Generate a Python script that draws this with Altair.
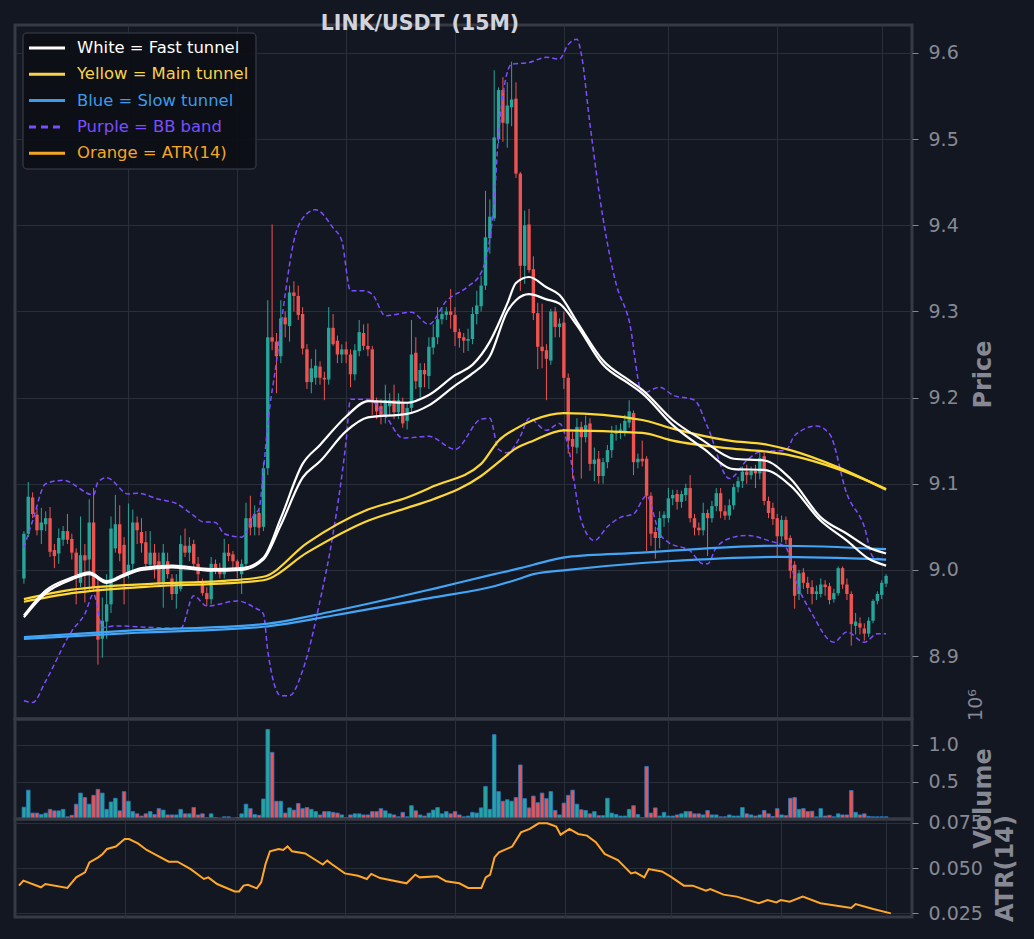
import altair as alt
import pandas as pd
import jinja2

# ---------------- data ----------------
opens = [
8.990, 9.042, 9.084, 9.064, 9.046, 9.053, 9.060, 9.023, 9.019, 9.035,
9.045, 9.036, 9.020, 8.985, 9.017, 9.012, 9.055, 8.980, 8.920, 8.940,
8.960, 9.025, 9.053, 9.029, 8.996, 9.007, 9.055, 9.044, 9.032, 9.006,
9.020, 9.010, 8.985, 9.010, 8.990, 8.972, 8.978, 9.028, 9.020, 9.030,
9.007, 8.985, 8.973, 8.966, 9.007, 8.999, 8.995, 9.020, 9.018, 9.010,
8.995, 9.007, 9.060, 9.050, 9.066, 9.050, 9.118, 9.270, 9.265, 9.248,
9.293, 9.283, 9.322, 9.318, 9.297, 9.256, 9.218, 9.223, 9.236, 9.223,
9.221, 9.281, 9.266, 9.250, 9.256, 9.250, 9.227, 9.254, 9.275, 9.260,
9.256, 9.196, 9.190, 9.180, 9.190, 9.197, 9.183, 9.193, 9.173, 9.188,
9.252, 9.212, 9.232, 9.225, 9.258, 9.270, 9.291, 9.296, 9.300, 9.296,
9.276, 9.270, 9.266, 9.268, 9.297, 9.306, 9.330, 9.385, 9.408, 9.500,
9.557, 9.518, 9.537, 9.547, 9.460, 9.353, 9.401, 9.349, 9.298, 9.259,
9.255, 9.243, 9.300, 9.282, 9.287, 9.223, 9.152, 9.142, 9.166, 9.154,
9.170, 9.123, 9.129, 9.109, 9.125, 9.139, 9.158, 9.160, 9.159, 9.171,
9.182, 9.125, 9.129, 9.129, 9.086, 9.044, 9.037, 9.060, 9.060, 9.083,
9.088, 9.079, 9.087, 9.095, 9.060, 9.049, 9.046, 9.066, 9.060, 9.074,
9.089, 9.068, 9.063, 9.075, 9.096, 9.103, 9.114, 9.110, 9.115, 9.112,
9.132, 9.080, 9.072, 9.060, 9.039, 9.058, 9.037, 9.006, 8.972, 8.997,
8.985, 8.980, 8.972, 8.972, 8.983, 8.981, 8.966, 8.973, 9.002, 8.983,
8.972, 8.935, 8.938, 8.932, 8.926, 8.941, 8.964, 8.971, 8.984]

highs = [
9.045, 9.102, 9.090, 9.072, 9.072, 9.068, 9.073, 9.030, 9.048, 9.051,
9.065, 9.042, 9.025, 9.062, 9.030, 9.082, 9.095, 8.990, 8.968, 8.995,
9.062, 9.087, 9.075, 9.038, 9.077, 9.070, 9.062, 9.060, 9.045, 9.045,
9.030, 9.020, 9.030, 9.020, 8.995, 8.995, 9.040, 9.048, 9.038, 9.035,
9.015, 8.990, 8.980, 9.015, 9.012, 9.008, 9.036, 9.030, 9.022, 9.012,
9.012, 9.078, 9.086, 9.075, 9.070, 9.125, 9.313, 9.401, 9.275, 9.313,
9.300, 9.330, 9.335, 9.330, 9.305, 9.262, 9.245, 9.256, 9.242, 9.230,
9.305, 9.297, 9.272, 9.262, 9.265, 9.256, 9.262, 9.290, 9.285, 9.286,
9.260, 9.200, 9.198, 9.215, 9.205, 9.215, 9.205, 9.200, 9.195, 9.290,
9.270, 9.240, 9.240, 9.270, 9.285, 9.305, 9.305, 9.305, 9.326, 9.305,
9.280, 9.275, 9.280, 9.305, 9.324, 9.341, 9.440, 9.430, 9.580, 9.560,
9.572, 9.566, 9.590, 9.566, 9.462, 9.417, 9.419, 9.364, 9.310, 9.309,
9.262, 9.303, 9.305, 9.292, 9.300, 9.228, 9.160, 9.176, 9.172, 9.179,
9.176, 9.142, 9.138, 9.130, 9.145, 9.167, 9.168, 9.170, 9.180, 9.197,
9.185, 9.135, 9.150, 9.132, 9.090, 9.050, 9.068, 9.068, 9.095, 9.093,
9.093, 9.092, 9.100, 9.110, 9.065, 9.055, 9.078, 9.070, 9.080, 9.095,
9.095, 9.075, 9.082, 9.100, 9.108, 9.120, 9.122, 9.120, 9.122, 9.136,
9.136, 9.085, 9.078, 9.065, 9.063, 9.062, 9.040, 9.010, 9.000, 9.002,
8.992, 8.988, 8.982, 8.990, 8.988, 8.985, 8.978, 9.004, 9.004, 8.990,
8.975, 8.950, 8.945, 8.938, 8.945, 8.966, 8.975, 8.988, 8.995]

lows = [
8.984, 9.038, 9.060, 9.040, 9.030, 9.045, 9.015, 9.002, 9.007, 9.028,
9.030, 9.012, 8.960, 8.980, 8.962, 8.975, 8.975, 8.890, 8.898, 8.920,
8.950, 9.020, 9.010, 8.960, 8.990, 9.000, 9.030, 9.020, 9.000, 9.000,
8.990, 8.980, 8.956, 8.990, 8.965, 8.955, 8.975, 9.015, 9.010, 9.000,
8.985, 8.970, 8.958, 8.960, 8.995, 8.990, 8.990, 9.010, 9.000, 8.990,
8.972, 9.000, 9.040, 9.040, 9.040, 9.045, 9.110, 9.255, 9.205, 9.240,
9.270, 9.265, 9.300, 9.290, 9.250, 9.210, 9.205, 9.215, 9.215, 9.197,
9.215, 9.260, 9.240, 9.240, 9.240, 9.212, 9.220, 9.248, 9.255, 9.248,
9.180, 9.175, 9.169, 9.170, 9.180, 9.175, 9.175, 9.165, 9.163, 9.183,
9.210, 9.200, 9.212, 9.210, 9.250, 9.262, 9.285, 9.290, 9.280, 9.260,
9.258, 9.252, 9.254, 9.262, 9.285, 9.300, 9.325, 9.367, 9.405, 9.495,
9.497, 9.490, 9.515, 9.455, 9.324, 9.332, 9.345, 9.290, 9.233, 9.234,
9.197, 9.238, 9.270, 9.270, 9.210, 9.135, 9.106, 9.135, 9.106, 9.148,
9.115, 9.103, 9.100, 9.100, 9.118, 9.130, 9.150, 9.152, 9.155, 9.165,
9.110, 9.118, 9.120, 9.022, 9.028, 9.013, 9.025, 9.050, 9.055, 9.075,
9.070, 9.072, 9.080, 9.055, 9.040, 9.040, 9.040, 9.016, 9.055, 9.068,
9.060, 9.058, 9.058, 9.070, 9.090, 9.095, 9.100, 9.105, 9.095, 9.105,
9.075, 9.060, 9.052, 9.015, 9.032, 9.030, 8.990, 8.955, 8.965, 8.978,
8.972, 8.960, 8.965, 8.968, 8.970, 8.960, 8.962, 8.970, 8.978, 8.965,
8.912, 8.925, 8.925, 8.918, 8.922, 8.938, 8.960, 8.966, 8.980]

closes = [
9.042, 9.085, 9.065, 9.046, 9.055, 9.060, 9.021, 9.016, 9.037, 9.045,
9.035, 9.020, 8.991, 9.017, 9.011, 9.055, 8.980, 8.919, 8.941, 8.960,
9.048, 9.053, 9.019, 8.996, 9.006, 9.055, 9.046, 9.031, 9.007, 9.020,
9.006, 8.985, 9.020, 8.995, 8.972, 8.985, 9.030, 9.020, 9.028, 9.007,
8.995, 8.973, 8.966, 9.007, 9.000, 8.995, 9.020, 9.016, 9.010, 9.000,
9.007, 9.060, 9.049, 9.065, 9.049, 9.118, 9.270, 9.265, 9.248, 9.292,
9.285, 9.322, 9.318, 9.296, 9.257, 9.218, 9.234, 9.237, 9.223, 9.221,
9.281, 9.262, 9.250, 9.256, 9.250, 9.227, 9.255, 9.276, 9.260, 9.256,
9.196, 9.184, 9.180, 9.197, 9.197, 9.183, 9.197, 9.170, 9.188, 9.250,
9.219, 9.232, 9.227, 9.259, 9.270, 9.291, 9.297, 9.300, 9.296, 9.276,
9.269, 9.266, 9.268, 9.297, 9.307, 9.330, 9.386, 9.410, 9.502, 9.557,
9.519, 9.539, 9.546, 9.460, 9.353, 9.400, 9.348, 9.298, 9.259, 9.254,
9.245, 9.300, 9.282, 9.286, 9.223, 9.150, 9.143, 9.166, 9.154, 9.168,
9.123, 9.128, 9.109, 9.125, 9.139, 9.158, 9.160, 9.163, 9.173, 9.184,
9.125, 9.129, 9.126, 9.086, 9.042, 9.037, 9.060, 9.064, 9.083, 9.087,
9.079, 9.088, 9.095, 9.060, 9.049, 9.046, 9.066, 9.060, 9.074, 9.089,
9.068, 9.063, 9.075, 9.096, 9.103, 9.114, 9.110, 9.115, 9.112, 9.130,
9.080, 9.066, 9.059, 9.039, 9.058, 9.035, 8.999, 8.970, 8.996, 8.985,
8.979, 8.972, 8.975, 8.983, 8.980, 8.965, 8.973, 9.002, 8.983, 8.972,
8.937, 8.940, 8.933, 8.926, 8.941, 8.964, 8.972, 8.985, 8.993]

# volume in units of 1e6
volumes = [
0.16, 0.39, 0.08, 0.08, 0.06, 0.08, 0.13, 0.11, 0.11, 0.13,
0.03, 0.05, 0.20, 0.35, 0.29, 0.20, 0.32, 0.40, 0.35, 0.13,
0.23, 0.28, 0.11, 0.37, 0.24, 0.10, 0.07, 0.04, 0.07, 0.10,
0.06, 0.14, 0.12, 0.055, 0.055, 0.055, 0.13, 0.07, 0.07, 0.155,
0.055, 0.07, 0.02, 0.07, 0.02, 0.01, 0.03, 0.03, 0.01, 0.02,
0.07, 0.20, 0.14, 0.06, 0.05, 0.27, 1.21, 0.90, 0.24, 0.24,
0.08, 0.15, 0.12, 0.21, 0.14, 0.155, 0.13, 0.10, 0.055, 0.10,
0.10, 0.09, 0.08, 0.055, 0.02, 0.055, 0.07, 0.07, 0.055, 0.055,
0.10, 0.10, 0.14, 0.11, 0.07, 0.055, 0.03, 0.09, 0.03, 0.18,
0.11, 0.055, 0.04, 0.08, 0.12, 0.155, 0.07, 0.10, 0.07, 0.10,
0.055, 0.03, 0.04, 0.09, 0.08, 0.15, 0.44, 0.13, 1.14, 0.37,
0.24, 0.26, 0.24, 0.29,
0.73, 0.275, 0.15, 0.31, 0.22, 0.35, 0.275, 0.37, 0.115, 0.055,
0.215, 0.32, 0.39, 0.20, 0.125, 0.115, 0.07, 0.10, 0.045, 0.045,
0.28, 0.08, 0.06, 0.04, 0.04, 0.13, 0.18, 0.06, 0.02, 0.71,
0.08, 0.15, 0.04, 0.09, 0.04, 0.04, 0.055, 0.07, 0.10, 0.10,
0.07, 0.07, 0.055, 0.115, 0.055, 0.055, 0.03, 0.03, 0.055, 0.04,
0.04, 0.155, 0.07, 0.055, 0.04, 0.055, 0.115, 0.07, 0.035, 0.14,
0.055, 0.045, 0.28, 0.29, 0.13, 0.14, 0.10, 0.105, 0.03, 0.14,
0.04, 0.05, 0.03, 0.07, 0.055, 0.055, 0.385, 0.09, 0.055, 0.07,
0.035, 0.03, 0.03, 0.03, 0.03]

fast_idx = [0, 5, 11, 15, 19, 23, 27, 34, 43, 50, 55, 59, 64, 68, 74, 79, 88, 93, 99, 103,
            107, 111, 113, 116, 120, 123, 127, 133, 139, 142, 149, 156, 163, 170, 176, 183, 189, 194, 198]
fast_upper = [8.947, 8.976, 8.991, 8.997, 8.987, 8.995, 9.002, 9.005, 9.001, 9.002,
              9.014, 9.060, 9.123, 9.145, 9.178, 9.196, 9.194, 9.203, 9.226, 9.238,
              9.265, 9.309, 9.333, 9.340, 9.328, 9.319, 9.288, 9.243, 9.220, 9.209,
              9.174, 9.150, 9.129, 9.127, 9.106, 9.061, 9.042, 9.026, 9.019]
fast_lower = [8.945, 8.973, 8.989, 8.995, 8.985, 8.993, 9.000, 9.003, 8.999, 9.000,
              9.012, 9.052, 9.107, 9.126, 9.161, 9.177, 9.181, 9.191, 9.214, 9.228,
              9.248, 9.300, 9.313, 9.320, 9.314, 9.309, 9.284, 9.238, 9.216, 9.205,
              9.168, 9.141, 9.117, 9.116, 9.098, 9.057, 9.034, 9.013, 9.005]

main_idx = [0, 11, 30, 45, 55, 65, 79, 88, 94, 105, 109, 113, 117, 124, 142, 149, 162, 171, 176, 187, 198]
main_upper = [8.966, 8.977, 8.984, 8.987, 8.992, 9.031, 9.070, 9.084, 9.097, 9.123, 9.150,
              9.164, 9.174, 9.182, 9.174, 9.164, 9.150, 9.145, 9.139, 9.119, 9.093]
main_lower = [8.963, 8.973, 8.981, 8.984, 8.988, 9.020, 9.057, 9.072, 9.082, 9.109, 9.125,
              9.141, 9.150, 9.162, 9.159, 9.150, 9.141, 9.137, 9.133, 9.117, 9.094]

slow_idx = [0, 26, 55, 71, 94, 108, 114, 117, 125, 142, 148, 173, 198]
slow_upper = [8.922, 8.930, 8.937, 8.952, 8.978, 8.995, 9.002, 9.006, 9.015, 9.020, 9.022, 9.028, 9.024]
slow_lower = [8.920, 8.927, 8.934, 8.947, 8.968, 8.981, 8.990, 8.995, 9.000, 9.008, 9.010, 9.015, 9.012]

bbu_idx = [0, 2, 5, 9, 16, 17, 19, 24, 26, 31, 35, 39, 41, 44, 46, 50, 53, 54, 55, 56,
           58, 60, 62, 64, 67, 71, 73, 75, 78, 80, 83, 89, 93, 97, 102, 105, 108, 109, 112, 116,
           120, 123, 125, 127, 128, 130, 133, 136, 139, 142, 146, 149, 154, 157, 162, 166, 169, 175, 177, 182,
           185, 189, 193, 195, 198]
bb_upper = [9.026, 9.057, 9.100, 9.104, 9.087, 9.102, 9.107, 9.088, 9.089, 9.082,
            9.077, 9.063, 9.056, 9.055, 9.042, 9.038, 9.065, 9.071, 9.115, 9.169,
            9.242, 9.320, 9.382, 9.408, 9.418, 9.397, 9.382, 9.324, 9.324, 9.320,
            9.295, 9.299, 9.285, 9.312, 9.329, 9.345, 9.428, 9.506, 9.587, 9.589,
            9.595, 9.593, 9.610, 9.616, 9.599, 9.517, 9.408, 9.332, 9.289, 9.205,
            9.212, 9.203, 9.197, 9.166, 9.106, 9.127, 9.137, 9.139, 9.156, 9.167,
            9.158, 9.088, 9.050, 9.015, 9.012]

bbl_idx = [0, 2, 5, 11, 14, 16, 18, 21, 30, 36, 39, 42, 49, 53, 55, 56, 59, 61, 64, 68,
           71, 74, 75, 79, 83, 87, 93, 99, 105, 107, 109, 111, 114, 116, 120, 123, 125, 128, 131, 134,
           137, 140, 143, 146, 148, 153, 156, 157, 159, 163, 166, 171, 175, 177, 181, 186, 189, 193, 196, 198]
bb_lower = [8.848, 8.846, 8.871, 8.929, 8.949, 8.972, 8.933, 8.935, 8.933, 8.932,
            8.970, 8.958, 8.964, 8.956, 8.949, 8.906, 8.854, 8.854, 8.883, 8.964,
            9.042, 9.150, 9.198, 9.198, 9.179, 9.153, 9.155, 9.140, 9.175, 9.176,
            9.140, 9.136, 9.155, 9.176, 9.162, 9.170, 9.143, 9.057, 9.034, 9.050,
            9.061, 9.065, 9.086, 9.042, 9.032, 9.022, 9.007, 9.007, 9.026, 9.038,
            9.040, 9.034, 9.026, 8.991, 8.949, 8.916, 8.928, 8.916, 8.926, 8.926]

atr_idx = [0, 1, 5, 6, 11, 13, 15, 16, 18, 19, 20, 22, 24, 25, 27, 29, 31, 34, 36, 39,
           42, 43, 45, 49, 50, 51, 52, 54, 55, 56, 57, 59, 60, 61, 62, 65, 67, 69, 70, 71,
           74, 77, 79, 80, 82, 88, 90, 91, 95, 97, 100, 102, 105, 106, 107, 108, 109, 112, 114, 116,
           118, 120, 122, 123, 125, 127, 129, 131, 133, 136, 139, 140, 142, 143, 146, 148, 151, 153, 156, 157,
           160, 163, 168, 170, 172, 173, 175, 178, 182, 189, 190, 194, 198]
atr_vals = [0.0402, 0.0430, 0.0393, 0.0411, 0.0389, 0.0448, 0.0476, 0.0531, 0.0559, 0.0578,
            0.0606, 0.0619, 0.0661, 0.0661, 0.0637, 0.0600, 0.0574, 0.0535, 0.0535, 0.0494,
            0.0439, 0.0448, 0.0411, 0.0370, 0.0370, 0.0402, 0.0407, 0.0387, 0.0420, 0.0522,
            0.0593, 0.0606, 0.0600, 0.0620, 0.0593, 0.0581, 0.0550, 0.0519, 0.0541, 0.0522,
            0.0470, 0.0457, 0.0439, 0.0467, 0.0444, 0.0415, 0.0463, 0.0448, 0.0454, 0.0426,
            0.0415, 0.0389, 0.0389, 0.0448, 0.0463, 0.0559, 0.0587, 0.0619, 0.0698, 0.0717,
            0.0748, 0.0748, 0.0730, 0.0685, 0.0717, 0.0689, 0.0680, 0.0643, 0.0578, 0.0544,
            0.0470, 0.0476, 0.0448, 0.0494, 0.0481, 0.0452, 0.0402, 0.0402, 0.0374, 0.0383,
            0.0352, 0.0341, 0.0304, 0.0322, 0.0309, 0.0322, 0.0313, 0.0341, 0.0304, 0.0278,
            0.0300, 0.0272, 0.0248]

price_ticks = [8.9, 9.0, 9.1, 9.2, 9.3, 9.4, 9.5, 9.6]
vol_ticks = [0.5, 1.0]
atr_ticks = [0.025, 0.050, 0.075]
grid_idx = [24, 49, 74, 99, 124, 148, 173, 197]

legend_labels = ["White = Fast tunnel", "Yellow = Main tunnel", "Blue = Slow tunnel",
                 "Purple = BB band", "Orange = ATR(14)"]
legend_colors = ["#ffffff", "#f9d14a", "#3d9be9", "#7c4dff", "#f5a623"]
legend_dashed = [False, False, False, True, False]
title_text = "LINK/USDT (15M)"

N = len(closes)
assert len(opens) == N and len(highs) == N and len(lows) == N and len(volumes) == N
assert len(fast_idx) == len(fast_upper) == len(fast_lower)
assert len(main_idx) == len(main_upper) == len(main_lower)
assert len(slow_idx) == len(slow_upper) == len(slow_lower)
assert len(bbu_idx) == len(bb_upper) and len(bbl_idx) == len(bb_lower)
assert len(atr_idx) == len(atr_vals)

# ---------------- styling ----------------
BG = "#131722"
UP, DOWN = "#26a69a", "#ef5350"
WHITE, YELLOW, BLUE, PURPLE, ORANGE = "#ffffff", "#fdd835", "#42a5f5", "#7c4dff", "#ffa726"
TXT = "#868993"
FONT = "DejaVu Sans"
W = 897
H_PRICE, H_VOL, H_ATR = 694, 100, 98

candles = pd.DataFrame({"idx": list(range(N)), "open": opens, "high": highs,
                        "low": lows, "close": closes, "vol": volumes})


def line_df(idx, upper, lower):
    return pd.DataFrame({"idx": idx + idx, "value": upper + lower,
                         "series": ["upper"] * len(idx) + ["lower"] * len(idx)})


fast_df = line_df(fast_idx, fast_upper, fast_lower)
main_df = line_df(main_idx, main_upper, main_lower)
slow_df = line_df(slow_idx, slow_upper, slow_lower)
bb_df = pd.DataFrame({"idx": bbu_idx + bbl_idx, "value": bb_upper + bb_lower,
                      "series": ["upper"] * len(bbu_idx) + ["lower"] * len(bbl_idx)})
atr_df = pd.DataFrame({"idx": atr_idx, "atr": atr_vals})
leg_df = pd.DataFrame({"label": legend_labels, "color": legend_colors,
                       "row": list(range(len(legend_labels))), "dashed": legend_dashed})
one = pd.DataFrame({"k": [0]})

xscale = alt.Scale(domain=[-0.9, 202.8], nice=False, zero=False)
xenc = alt.X("idx:Q", scale=xscale, axis=alt.Axis(values=grid_idx, grid=True), title=None)
updown = alt.condition("datum.close >= datum.open", alt.value(UP), alt.value(DOWN))

pscale = alt.Scale(domain=[8.8269, 9.6325], nice=False, zero=False)
yprice_axis = alt.Axis(orient="right", values=price_ticks, format=".1f", title="Price",
                       titleAngle=270, titleX=71, titleY=349, titleAlign="center",
                       titleBaseline="middle")

wicks = alt.Chart(candles).mark_rule(strokeWidth=1).encode(
    x=xenc,
    y=alt.Y("low:Q", scale=pscale, axis=yprice_axis),
    y2="high:Q",
    color=updown,
)
bodies = alt.Chart(candles).mark_bar(size=3.4).encode(
    x=xenc,
    y=alt.Y("open:Q", scale=pscale),
    y2="close:Q",
    color=updown,
)


def tunnel(df, color, width, dash=None):
    kw = dict(color=color, strokeWidth=width, interpolate="monotone")
    if dash:
        kw["strokeDash"] = dash
    return alt.Chart(df).mark_line(**kw).encode(
        x=xenc, y=alt.Y("value:Q", scale=pscale), detail="series:N"
    )


bb_lines = tunnel(bb_df, PURPLE, 1.5, [5, 3])
slow_lines = tunnel(slow_df, BLUE, 2.2)
main_lines = tunnel(main_df, YELLOW, 2.2)
fast_lines = tunnel(fast_df, WHITE, 2.2)

price_core = alt.layer(wicks, bodies, bb_lines, slow_lines, main_lines, fast_lines)

rowscale = alt.Scale(domain=[0, 4], range=[23, 128.2])
legend_bg = alt.Chart(one).mark_rect(fill="#0c0f15", fillOpacity=0.92, stroke="#2f333d",
                                     strokeWidth=1.5, cornerRadius=4).encode(
    x=alt.value(8), x2=alt.value(241), y=alt.value(8), y2=alt.value(144)
)
legend_sym = alt.Chart(leg_df).mark_rule(strokeWidth=3).encode(
    x=alt.value(14), x2=alt.value(50),
    y=alt.Y("row:Q", scale=rowscale, axis=None),
    color=alt.Color("color:N", scale=None),
    strokeDash=alt.condition("datum.dashed", alt.value([7, 5]), alt.value([1, 0])),
)
legend_txt = alt.Chart(leg_df).mark_text(align="left", baseline="middle", fontSize=16.4,
                                         font=FONT).encode(
    x=alt.value(62),
    y=alt.Y("row:Q", scale=rowscale, axis=None),
    text="label:N",
    color=alt.Color("color:N", scale=None),
)
title_mark = alt.Chart(one).mark_text(text=title_text, fontSize=20.5, fontWeight="bold",
                                      font=FONT, color="#d1d4dc", baseline="middle",
                                      align="center").encode(
    x=alt.value(405), y=alt.value(-1)
)
overlay = alt.layer(legend_bg, legend_sym, legend_txt, title_mark)

price = alt.layer(price_core, overlay).resolve_scale(y="independent").properties(
    width=W, height=H_PRICE)

# ---------------- volume ----------------
vscale = alt.Scale(domain=[0, 1.351], nice=False, zero=True)
vol_bars = alt.Chart(candles).mark_bar(size=3.6, stroke="#2a78c8", strokeWidth=0.8).encode(
    x=xenc,
    y=alt.Y("vol:Q", scale=vscale,
            axis=alt.Axis(orient="right", values=vol_ticks, format=".1f", title="Volume",
                          titleAngle=270, titleX=71, titleY=79, titleAlign="center",
                          titleBaseline="middle")),
    color=updown,
)
offset_txt = alt.Chart(one).mark_text(text="10⁶", fontSize=19, font=FONT, color=TXT,
                                      angle=270, align="center", baseline="middle").encode(
    x=alt.value(961), y=alt.value(-14)
)
volume = alt.layer(vol_bars, offset_txt).properties(width=W, height=H_VOL)

# ---------------- ATR ----------------
ascale = alt.Scale(domain=[0.02278, 0.07722], nice=False, zero=False)
atr = alt.Chart(atr_df).mark_line(color=ORANGE, strokeWidth=2).encode(
    x=xenc,
    y=alt.Y("atr:Q", scale=ascale,
            axis=alt.Axis(orient="right", values=atr_ticks, format=".3f", title="ATR(14)",
                          titleAngle=270, titleX=93, titleY=49, titleAlign="center",
                          titleBaseline="middle")),
).properties(width=W, height=H_ATR)

chart = alt.vconcat(price, volume, atr, spacing=0, bounds="flush").properties(
    padding={"left": 5, "top": 4, "right": 5, "bottom": 5},
    background=BG,
).configure_view(
    stroke="#363a45", strokeWidth=3
).configure_axis(
    labelFont=FONT, titleFont=FONT, labelFontSize=19, labelColor=TXT,
    titleColor=TXT, titleFontSize=24, titleFontWeight="bold",
    gridColor="#2a2e39", gridWidth=1, tickColor=TXT, tickSize=6,
    domain=False, labelPadding=10,
).configure_axisX(
    labels=False, ticks=False, domain=False, title=None
)

PAGE = jinja2.Template("""<!DOCTYPE html>
<html>
<head>
  <style>
    body { background: #131722; }
    #{{ output_div }}.vega-embed { width: 100%; display: flex; }
  </style>
  <script type="text/javascript" src="{{ base_url }}/vega@{{ vega_version }}"></script>
  <script type="text/javascript" src="{{ base_url }}/vega-lite@{{ vegalite_version }}"></script>
  <script type="text/javascript" src="{{ base_url }}/vega-embed@{{ vegaembed_version }}"></script>
</head>
<body>
  <div id="{{ output_div }}"></div>
  <script>
    (function(vegaEmbed) {
      var spec = {{ spec }};
      var embedOpt = {{ embed_options }};
      vegaEmbed("#{{ output_div }}", spec, embedOpt);
    })(vegaEmbed);
  </script>
</body>
</html>""")

try:
    chart.save("out.html", embed_options={"renderer": "svg", "actions": False}, template=PAGE)
except Exception:
    chart.save("out.html", embed_options={"renderer": "svg", "actions": False})
